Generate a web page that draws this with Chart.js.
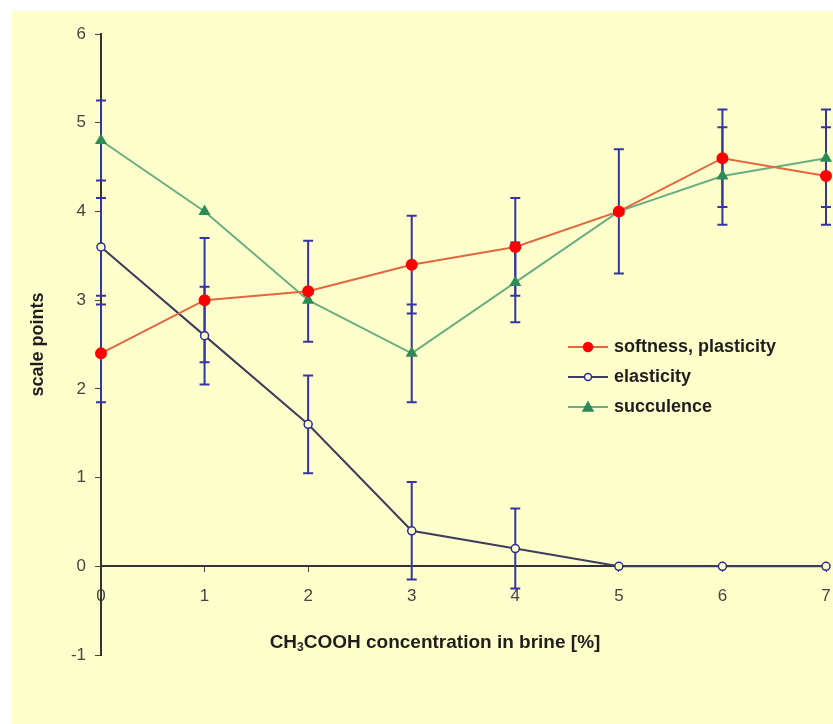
<!DOCTYPE html>
<html>
<head>
<meta charset="utf-8">
<script src="https://cdn.jsdelivr.net/npm/chart.js@4.4.1/dist/chart.umd.min.js"></script>
<style>
  html, body { margin: 0; padding: 0; background: #ffffff; }
  #wrap { width: 833px; height: 724px; position: relative; }
</style>
</head>
<body>
<div id="wrap"><canvas id="brineChart"></canvas></div>
<script>
// Concentratie azijnzuur in pekel (x-as)
const concentrations = ['0', '1', '2', '3', '4', '5', '6', '7'];

// Gemiddelde scores per eigenschap
const softness = [2.4, 3.0, 3.1, 3.4, 3.6, 4.0, 4.6, 4.4];
const elasticity = [3.6, 2.6, 1.6, 0.4, 0.2, 0, 0, 0];
const succulence = [4.8, 4.0, 3.0, 2.4, 3.2, 4.0, 4.4, 4.6];

// Foutmarges (+/-) per punt, 0 = geen foutbalk
const softnessErr = [0.55, 0.7, 0.57, 0.55, 0.55, 0.7, 0.55, 0.55];
const elasticityErr = [0.55, 0.55, 0.55, 0.55, 0.45, 0, 0, 0];
const succulenceErr = [0.45, 0, 0, 0.55, 0.45, 0, 0.55, 0.55];

const seriesNames = ['softness, plasticity', 'elasticity', 'succulence'];
const errorSets = [softnessErr, elasticityErr, succulenceErr];

const fontFamily = '"Liberation Sans", Arial, Helvetica, sans-serif';
const errColor = '#3434a4';
const cream = '#ffffcc';

// Klein symbooltje (lijn + marker) voor de legenda
function legendSymbol(lineColor, style, fill, stroke) {
    const c = document.createElement('canvas');
    c.width = 40;
    c.height = 14;
    const g = c.getContext('2d');
    g.strokeStyle = lineColor;
    g.lineWidth = 2;
    g.beginPath();
    g.moveTo(0, 7);
    g.lineTo(40, 7);
    g.stroke();
    g.fillStyle = fill;
    g.strokeStyle = stroke;
    g.lineWidth = 1.5;
    g.beginPath();
    if (style === 'triangle') {
        g.moveTo(20, 2);
        g.lineTo(25, 11);
        g.lineTo(15, 11);
        g.closePath();
    } else {
        g.arc(20, 7, style === 'open' ? 3.5 : 4.5, 0, Math.PI * 2);
    }
    g.fill();
    g.stroke();
    return c;
}

const legendSymbols = [
    legendSymbol('#e2673f', 'circle', '#ff0000', '#ff0000'),
    legendSymbol('#3c3c5c', 'open', cream, '#2a2a9a'),
    legendSymbol('#6aae84', 'triangle', '#2e8b57', '#2e8b57')
];

// Achtergrondvlak
const backgroundPlugin = {
    id: 'creamBackground',
    beforeDraw(chart) {
        const ctx = chart.ctx;
        ctx.save();
        ctx.fillStyle = cream;
        ctx.fillRect(12, 11, chart.width - 12, chart.height - 11);
        ctx.restore();
    }
};

// Foutbalken tekenen via de schalen van de grafiek
const errorBarPlugin = {
    id: 'errorBars',
    beforeDatasetsDraw(chart) {
        const ctx = chart.ctx;
        const xScale = chart.scales.x;
        const yScale = chart.scales.y;
        ctx.save();
        ctx.strokeStyle = errColor;
        ctx.lineWidth = 2;
        chart.data.datasets.forEach((ds, i) => {
            const errs = errorSets[i];
            ds.data.forEach((v, j) => {
                const e = errs[j];
                if (!e) return;
                const x = xScale.getPixelForValue(j);
                const yTop = yScale.getPixelForValue(v + e);
                const yBot = yScale.getPixelForValue(v - e);
                ctx.beginPath();
                ctx.moveTo(x, yTop);
                ctx.lineTo(x, yBot);
                ctx.moveTo(x - 5, yTop);
                ctx.lineTo(x + 5, yTop);
                ctx.moveTo(x - 5, yBot);
                ctx.lineTo(x + 5, yBot);
                ctx.stroke();
            });
        });
        ctx.restore();
    }
};

// Legenda binnen het grafiekvlak verplaatsen
const legendPlacePlugin = {
    id: 'legendPlace',
    afterLayout(chart) {
        const lg = chart.legend;
        if (!lg) return;
        const w = lg.width;
        const h = lg.height;
        lg.left = 559;
        lg.top = 326;
        lg.right = lg.left + w;
        lg.bottom = lg.top + h;
    }
};

// X-as titel met subscript
const xTitlePlugin = {
    id: 'xTitle',
    afterDraw(chart) {
        const ctx = chart.ctx;
        const big = 'bold 19px ' + fontFamily;
        const small = 'bold 12px ' + fontFamily;
        ctx.save();
        ctx.fillStyle = '#1e1e1e';
        ctx.textBaseline = 'alphabetic';
        ctx.font = big;
        const w1 = ctx.measureText('CH').width;
        const w3 = ctx.measureText('COOH concentration in brine [%]').width;
        ctx.font = small;
        const w2 = ctx.measureText('3').width;
        let x = 435 - (w1 + w2 + w3) / 2;
        const y = 648;
        ctx.font = big;
        ctx.fillText('CH', x, y);
        x += w1;
        ctx.font = small;
        ctx.fillText('3', x, y + 3);
        x += w2;
        ctx.font = big;
        ctx.fillText('COOH concentration in brine [%]', x, y);
        ctx.restore();
    }
};

const ctx = document.getElementById('brineChart').getContext('2d');

new Chart(ctx, {
    type: 'line',
    data: {
        labels: concentrations,
        datasets: [
            {
                label: seriesNames[0],
                data: softness,
                borderColor: '#e2673f',
                borderWidth: 2,
                pointStyle: 'circle',
                pointRadius: 5,
                pointBackgroundColor: '#ff0000',
                pointBorderColor: '#ff0000',
                clip: false
            },
            {
                label: seriesNames[1],
                data: elasticity,
                borderColor: '#3c3c5c',
                borderWidth: 2,
                pointStyle: 'circle',
                pointRadius: 4,
                pointBorderWidth: 1.5,
                pointBackgroundColor: cream,
                pointBorderColor: '#2a2a9a',
                clip: false
            },
            {
                label: seriesNames[2],
                data: succulence,
                borderColor: '#6aae84',
                borderWidth: 2,
                pointStyle: 'triangle',
                pointRadius: 5,
                pointBackgroundColor: '#2e8b57',
                pointBorderColor: '#2e8b57',
                clip: false
            }
        ]
    },
    options: {
        responsive: true,
        maintainAspectRatio: false,
        animation: false,
        layout: {
            padding: { left: 12, top: 34, right: -1, bottom: 69 }
        },
        scales: {
            x: {
                position: { y: 0 },
                offset: false,
                // geen extra ruimte rechts voor het laatste label
                afterFit: s => { s.paddingRight = 0; s.paddingLeft = 0; },
                grid: {
                    drawOnChartArea: false,
                    drawTicks: true,
                    tickLength: 5,
                    color: '#444'
                },
                border: { display: true, color: '#333', width: 2 },
                ticks: {
                    color: '#444',
                    padding: 15,
                    font: { family: fontFamily, size: 17 }
                }
            },
            y: {
                min: -1,
                max: 6,
                afterFit: s => { s.width = 89; },
                grid: {
                    drawOnChartArea: false,
                    drawTicks: true,
                    tickLength: 6,
                    color: '#444'
                },
                border: { display: true, color: '#333', width: 2 },
                ticks: {
                    stepSize: 1,
                    color: '#444',
                    padding: 9,
                    font: { family: fontFamily, size: 17 }
                },
                title: {
                    display: true,
                    text: 'scale points',
                    color: '#1e1e1e',
                    padding: { top: 15, bottom: 0 },
                    font: { family: fontFamily, size: 18, weight: 'bold' }
                }
            }
        },
        plugins: {
            legend: {
                position: 'chartArea',
                fullSize: false,
                align: 'start',
                labels: {
                    usePointStyle: true,
                    pointStyleWidth: 34,
                    padding: 12,
                    color: '#1e1e1e',
                    font: { family: fontFamily, size: 18, weight: 'bold' },
                    generateLabels: chart => {
                        const items = Chart.defaults.plugins.legend.labels.generateLabels(chart);
                        items.forEach((it, i) => { it.pointStyle = legendSymbols[i]; });
                        return items;
                    }
                }
            },
            tooltip: { enabled: false }
        }
    },
    plugins: [backgroundPlugin, errorBarPlugin, legendPlacePlugin, xTitlePlugin]
});
</script>
</body>
</html>
